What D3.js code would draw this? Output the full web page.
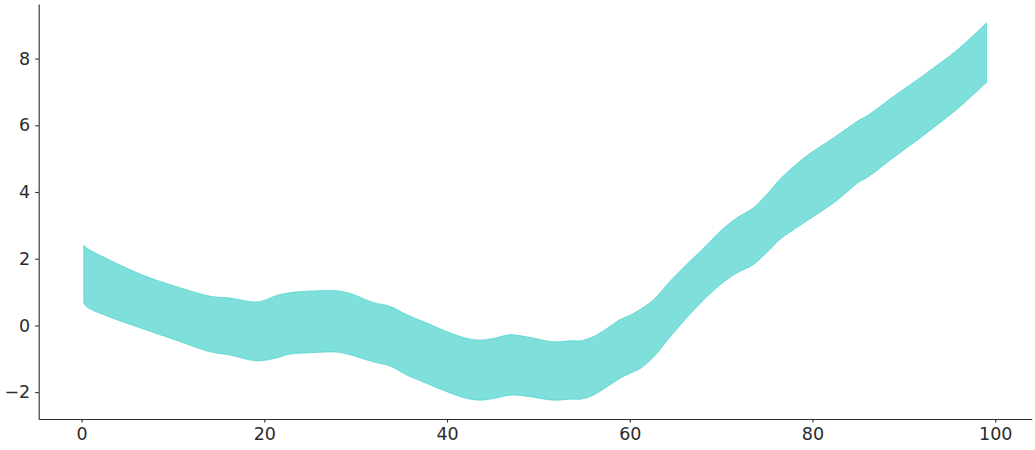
<!DOCTYPE html>
<html>
  <head>
    <title>band</title>
    <script type="text/javascript" src="https://d3js.org/d3.v7.min.js"></script>
    <style>
      body { margin: 0; background: #fff; }
      text { font-family: "DejaVu Sans", sans-serif; }
    </style>
  </head>
  <body>
    <svg width="1035" height="450"></svg>
    <script>
    // data
    var xs = [0.25, 0.6, 3, 6.6, 10.3, 14.2, 16.3, 18.5, 19.6, 21.4, 22.8, 25, 27.9, 29.4,
      31.9, 33.8, 35.6, 37.8, 40, 42.2, 43.6, 45.1, 46.9, 48.7, 51.6, 53.5, 54.6, 56,
      57.5, 58.9, 60, 61.1, 62.6, 64.4, 66.2, 68.1, 69.9, 71.7, 73.5, 75.3, 76.4, 79.3,
      82.3, 85.2, 85.9, 88.8, 92.5, 96.1, 99.05];
    var upper = [2.40, 2.31, 1.97, 1.52, 1.17, 0.87, 0.82, 0.71, 0.72, 0.90, 0.98, 1.03, 1.04, 0.96,
      0.69, 0.57, 0.32, 0.07, -0.19, -0.39, -0.44, -0.39, -0.28, -0.34, -0.49, -0.46, -0.46, -0.34,
      -0.09, 0.17, 0.30, 0.47, 0.77, 1.32, 1.82, 2.32, 2.82, 3.22, 3.52, 4.02, 4.37, 5.07,
      5.62, 6.17, 6.27, 6.85, 7.57, 8.32, 9.07];
    var lower = [0.67, 0.55, 0.26, -0.09, -0.44, -0.80, -0.89, -1.04, -1.06, -0.97, -0.86, -0.82, -0.80, -0.88,
      -1.09, -1.22, -1.49, -1.74, -1.99, -2.19, -2.24, -2.19, -2.09, -2.12, -2.24, -2.21, -2.21, -2.09,
      -1.84, -1.59, -1.44, -1.30, -0.95, -0.35, 0.22, 0.77, 1.22, 1.57, 1.82, 2.27, 2.57, 3.12,
      3.67, 4.32, 4.42, 5.02, 5.77, 6.55, 7.29];
    var xTicks = [0, 20, 40, 60, 80, 100];
    var yTicks = [-2, 0, 2, 4, 6, 8];

    var band = xs.map(function(x, i) { return {x: x, lo: lower[i], hi: upper[i]}; });

    var svg = d3.select("svg");
    var plot = {left: 38.7, right: 1031.7, top: 4, bottom: 419};
    var ink = "#2b2b2b";

    // 5% margins like matplotlib
    var xPad = (d3.max(xs) - d3.min(xs)) * 0.05;
    var yMin = d3.min(lower), yMax = d3.max(upper), yPad = (yMax - yMin) * 0.05;
    var x = d3.scaleLinear().domain([d3.min(xs) - xPad, d3.max(xs) + xPad]).range([plot.left, plot.right]);
    var y = d3.scaleLinear().domain([yMin - yPad, yMax + yPad]).range([plot.bottom, plot.top]);

    var area = d3.area()
      .x(function(d) { return x(d.x); })
      .y0(function(d) { return y(d.lo); })
      .y1(function(d) { return y(d.hi); })
      .curve(d3.curveCatmullRom.alpha(0.5));

    svg.append("path")
      .datum(band)
      .attr("d", area)
      .attr("fill", "#48d1cc")
      .attr("fill-opacity", 0.7)
      .attr("stroke", "#48d1cc")
      .attr("stroke-opacity", 0.7)
      .attr("stroke-width", 1);

    // axes
    var xAxis = svg.append("g")
      .attr("transform", "translate(0," + plot.bottom + ")")
      .call(d3.axisBottom(x).tickValues(xTicks).tickSize(3.5).tickPadding(5).tickSizeOuter(0));
    var yAxis = svg.append("g")
      .attr("transform", "translate(" + plot.left + ",0)")
      .call(d3.axisLeft(y).tickValues(yTicks).tickSize(3.5).tickPadding(5).tickSizeOuter(0)
        .tickFormat(function(d) { return d < 0 ? "\u2212" + Math.abs(d) : d; }));

    [xAxis, yAxis].forEach(function(a) {
      a.select(".domain").attr("stroke", ink).attr("stroke-width", 1.1);
      a.selectAll(".tick line").attr("stroke", ink).attr("stroke-width", 1.1);
      a.selectAll(".tick text").attr("fill", ink).style("font-size", "17.5px");
    });
    </script>
  </body>
</html>
